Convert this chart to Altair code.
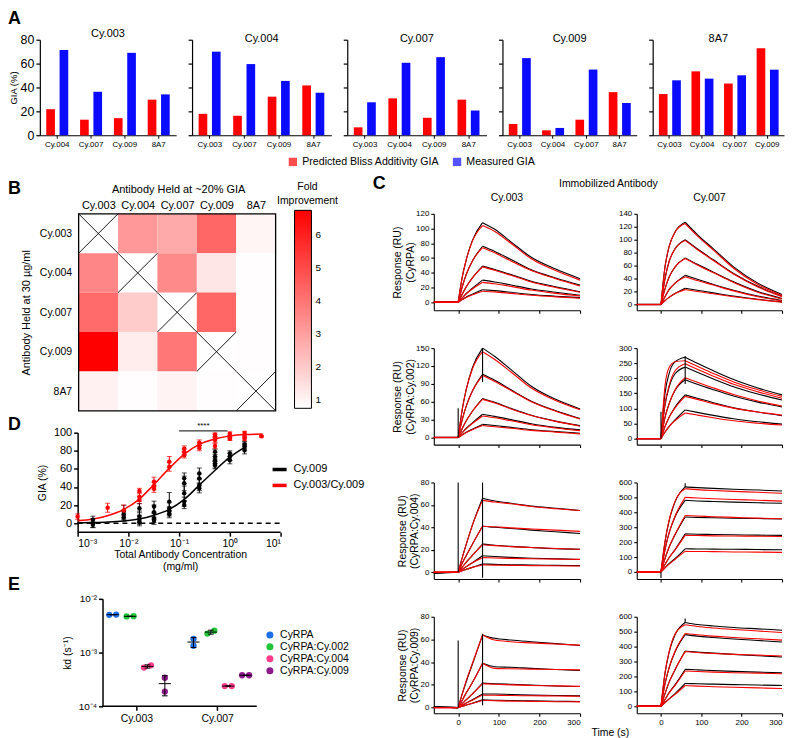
import json
import math
import altair as alt
import pandas as pd

FONT = "Liberation Sans"

# ---------------- Panel A ----------------
A_PANELS = ["Cy.003", "Cy.004", "Cy.007", "Cy.009", "8A7"]
A_PARTNERS = [
    ["Cy.004", "Cy.007", "Cy.009", "8A7"],
    ["Cy.003", "Cy.007", "Cy.009", "8A7"],
    ["Cy.003", "Cy.004", "Cy.009", "8A7"],
    ["Cy.003", "Cy.004", "Cy.007", "8A7"],
    ["Cy.003", "Cy.004", "Cy.007", "Cy.009"],
]
A_PRED = [[21.8, 13.0, 14.3, 29.8], [17.9, 16.3, 32.3, 41.7], [6.6, 30.9, 14.6, 29.8],
          [9.4, 4.1, 13.0, 36.1], [34.5, 53.5, 43.3, 72.8]]
A_MEAS = [[71.4, 36.4, 69.0, 34.2], [70.0, 59.6, 45.5, 35.6], [27.6, 60.7, 65.4, 20.7],
          [64.6, 6.1, 55.0, 27.0], [46.0, 47.4, 50.2, 54.9]]
A_SERIES = ["Predicted Bliss Additivity GIA", "Measured GIA"]
A_COLORS = ["#ff0000", "#0a0aff"]
A_YTICKS = [0, 20, 40, 60, 80]

# ---------------- Panel B ----------------
B_LABELS = ["Cy.003", "Cy.004", "Cy.007", "Cy.009", "8A7"]
B_FOLD = [
    [None, 3.15, 2.75, 4.35, 1.0],
    [3.6, None, 3.5, 1.35, 0.8],
    [4.25, 1.96, None, 4.35, 0.8],
    [6.75, 1.2, 3.95, None, 0.8],
    [1.1, 0.8, 1.05, 0.8, None],
]
B_LEGEND_TICKS = [1, 2, 3, 4, 5, 6]

# ---------------- Panel D ----------------
D_SERIES = ["Cy.009", "Cy.003/Cy.009"]
D_COLORS = ["#000000", "#ff0000"]
D9_CONC = [0.002, 0.002, 0.002, 0.0081, 0.0081, 0.0081, 0.0165, 0.0165, 0.0165, 0.0165,
           0.032, 0.032, 0.032, 0.032, 0.064, 0.064, 0.064, 0.064,
           0.126, 0.126, 0.126, 0.126, 0.126, 0.25, 0.25, 0.25, 0.25,
           0.51, 0.51, 0.51, 0.51, 0.51, 1.0, 1.0, 1.0, 1.95, 1.95, 1.95]
D9_MEAN = [3.7, 0, -1.8, 12.8, 9.2, 6.2, 16.5, 7.3, 3.7, 1,
           18.3, 12, 5.5, 2.6, 23.8, 16.5, 12.8, 9.9,
           49.5, 44, 33, 23.8, 20.1, 55, 49.5, 42, 38.5,
           78.8, 73.3, 69.6, 66, 64, 77, 73.3, 69.6, 87.2, 85.3, 80.6]
D9_SD = [4, 5, 3, 7, 5, 4, 5, 6, 5, 4,
         6, 8, 5, 4, 10, 6, 5, 4,
         6, 8, 8, 5, 4, 6, 5, 6, 5,
         3, 5, 4, 5, 4, 3, 4, 4, 3, 3, 4]
D39_CONC = [0.001, 0.0039, 0.0081, 0.0165, 0.0165, 0.0165, 0.032, 0.032, 0.032,
            0.064, 0.064, 0.126, 0.126, 0.126, 0.25, 0.25, 0.25,
            0.51, 0.51, 0.51, 0.51, 1.0, 1.0, 1.0, 1.95, 1.95, 1.95, 4.2]
D39_MEAN = [7.3, 17, 14, 35.5, 29, 25.6, 45.8, 41, 38,
            67.8, 62.3, 82.4, 78.8, 75, 89, 86, 83,
            97.8, 95, 92, 85.3, 98.9, 95, 93.4, 99.6, 96, 93, 96]
D39_SD = [3, 5, 6, 3, 5, 4, 5, 4, 4,
          6, 5, 3, 3, 3, 3, 3, 3,
          2, 3, 3, 3, 2, 2, 2, 2, 2, 2, 1]
D_FIT9_X = [0.001, 0.002, 0.004, 0.008, 0.016, 0.031, 0.0625, 0.125, 0.25, 0.5, 1, 2.1]
D_FIT9_Y = [0.3, 0.6, 1.2, 2.4, 4.6, 8.5, 15, 26, 42, 58, 73, 85]
D_FIT39_X = [0.001, 0.002, 0.004, 0.008, 0.016, 0.031, 0.0625, 0.125, 0.25, 0.5, 1, 2, 4.4]
D_FIT39_Y = [2.5, 4.5, 8.5, 15, 26, 42, 60, 76, 87, 93, 96.5, 98, 98.5]
D_XTICKS = [0.001, 0.01, 0.1, 1, 10]
D_YTICKS = [0, 20, 40, 60, 80, 100]
D_XDOMAIN = [0.001, 10]
D_YDOMAIN = [-10, 100]
D_SIG_FROM, D_SIG_TO, D_SIG_LEVEL, D_SIG_TEXT = 0.1, 0.9, 102, "****"

# ---------------- Panel E ----------------
E_CATS = ["Cy.003", "Cy.007"]
E_GROUPS = ["CyRPA", "CyRPA:Cy.002", "CyRPA:Cy.004", "CyRPA:Cy.009"]
E_COLORS = ["#1f6fe8", "#22c43a", "#ff3d8b", "#8e1a8e"]
E_KD = [
    [[5.05e-3, 5.1e-3], [4.7e-3, 4.75e-3], [5.25e-4, 5.8e-4], [3.4e-4, 1.88e-4]],
    [[1.8e-3, 1.34e-3], [2.26e-3, 2.55e-3], [2.38e-4, 2.38e-4], [3.78e-4, 3.78e-4]],
]
E_YTICKS = [1e-4, 1e-3, 1e-2]
E_XDOMAIN = [-0.419, 1.49]

# ---------------- Panel C ----------------
C_T = [-60, 0, 10, 20, 35, 60, 90, 130, 180, 240, 300]
C_COLS = ["Cy.003", "Cy.007"]
C_ROW_TITLES = ["(CyRPA)", "(CyRPA:Cy.002)", "(CyRPA:Cy.004)", "(CyRPA:Cy.009)"]
C_YDOM = [[[-11, 120], [-9, 140]], [[-12, 150], [-20, 300]], [[-6, 80], [-47, 600]], [[-5, 80], [-47, 600]]]
C_YTICKS = [
    [[0, 20, 40, 60, 80, 100, 120], [0, 20, 40, 60, 80, 100, 120, 140]],
    [[0, 30, 60, 90, 120, 150], [0, 50, 100, 150, 200, 250, 300]],
    [[0, 20, 40, 60, 80], [0, 100, 200, 300, 400, 500, 600]],
    [[0, 20, 40, 60, 80], [0, 100, 200, 300, 400, 500, 600]],
]
C_XTICKS = [0, 100, 200, 300]

C1L_BLACK = [[0, 0, 34, 58, 84, 108, 99, 82, 61, 45, 32],
             [0, 0, 21, 38, 56, 76, 69, 58, 44, 33, 23.5],
             [0, 0, 11, 21, 33, 49, 44.5, 37.5, 28.5, 21, 14.3],
             [0, 0, 6, 12, 19, 30, 27.5, 23.5, 18, 13.5, 9.5],
             [0, 0, 3.5, 7, 11, 17, 15.7, 13.5, 10.5, 8.2, 6.3]]
C1L_RED = [[0, 0, 34, 58, 83, 104, 96, 80, 59, 43, 30],
           [0, 0, 21, 38, 56, 74, 67, 56, 43, 32, 22],
           [0, 0, 11, 21, 33, 48, 43.5, 36.5, 27.5, 20, 13.5],
           [0, 0, 6, 11.5, 18, 27, 25, 21.5, 16.5, 12, 8.5],
           [0, 0, 3.5, 6.5, 10, 15, 14, 12, 9.5, 7.3, 5.5]]
C1R_BLACK = [[0, 0, 58, 89, 112, 127, 108, 86, 58, 33, 15.5],
             [0, 0, 40, 66, 86, 100, 86, 69, 48, 28, 13],
             [0, 0, 24, 42, 58, 72, 62, 50, 35, 20, 9.3],
             [0, 0, 12, 23, 33, 45, 39, 31, 22, 13, 6.2],
             [0, 0, 6, 11, 17, 25, 22, 18, 13, 8, 4.1]]
C1R_RED = [[0, 0, 58, 89, 112, 125, 106, 84, 56, 31, 14],
           [0, 0, 40, 66, 86, 99, 85, 68, 47, 27, 12],
           [0, 0, 24, 42, 58, 71, 61, 49, 34, 19, 8.5],
           [0, 0, 12, 23, 33, 43, 37, 30, 21, 12, 5.5],
           [0, 0, 6, 11, 17, 23, 20, 16.5, 12, 7.5, 3.5]]
C2L_BLACK = [[0, 0, 47, 81, 117, 150, 136, 114, 86, 64, 48],
             [0, 0, 30, 53, 78, 106, 96, 80, 61, 45, 32],
             [0, 0, 15, 28, 44, 65.5, 59, 49, 37.5, 27.5, 20],
             [0, 0, 8, 15.5, 24.5, 39, 35.5, 30, 23, 17, 12.8],
             [0, 0, 4.4, 8.8, 13.9, 22, 20, 17, 13, 10, 7.2]]
C2L_RED = [[0, 0, 47, 81, 115, 144, 131, 110, 83, 62, 46.5],
           [0, 0, 30, 53, 78, 104, 94, 79, 60, 44, 31],
           [0, 0, 15, 28, 44, 64, 58, 48, 37, 27, 19],
           [0, 0, 8, 15, 23.5, 36, 33, 28, 21.5, 16, 11.5],
           [0, 0, 4.2, 8.2, 13, 20, 18, 15.5, 12, 9, 6]]
C2R_BLACK = [[0, 0, 150, 215, 255, 270, 250, 225, 196, 168, 145],
             [0, 0, 110, 170, 215, 237, 220, 198, 172, 148, 128],
             [0, 0, 70, 115, 160, 195, 180, 162, 141, 121, 105],
             [0, 0, 40, 70, 105, 145, 134, 119, 102, 88, 76],
             [0, 0, 22, 40, 62, 95, 87, 77, 66, 56, 48]]
C2R_RED = [[0, 0, 175, 235, 255, 258, 240, 216, 188, 162, 140],
           [0, 0, 115, 175, 225, 248, 230, 207, 180, 155, 134],
           [0, 0, 70, 115, 162, 202, 187, 168, 146, 125, 108],
           [0, 0, 40, 70, 102, 140, 130, 116, 101, 88, 78],
           [0, 0, 22, 40, 60, 85, 78, 69, 59, 51, 45]]
C3L_BLACK = [[-1, 0, 13, 25, 42, 66, 63.5, 61.5, 59, 57, 55],
             [-0.5, 0, 8, 15, 25, 41, 40, 39, 37.5, 36, 34.5],
             [-0.5, 0, 4.5, 9, 15, 25, 24, 23, 22, 21, 20.5],
             [-0.5, 0, 2.5, 5, 8.5, 14.7, 14, 13.2, 12.5, 12, 11.4],
             [-0.5, 0, 1.3, 2.6, 4.3, 7.3, 7, 6.7, 6.4, 6.1, 5.9]]
C3L_RED = [[0, 0, 13, 25, 42, 64, 62.5, 61, 58.5, 56.5, 55],
           [0, 0, 8, 15, 25, 41, 40.5, 39.5, 38.5, 37.5, 36.4],
           [0, 0, 4.5, 9, 15, 24.5, 23.7, 22.8, 22, 21.2, 20.5],
           [0, 0, 2.5, 5, 8.5, 13, 12.7, 12.3, 12, 11.7, 11.4],
           [0, 0, 1.3, 2.6, 4.3, 6.5, 6.3, 6.1, 5.9, 5.7, 5.5]]
C3R_BLACK = [[0, 0, 200, 340, 470, 570, 565, 560, 554, 549, 543],
             [0, 0, 150, 260, 370, 480, 476, 472, 468, 464, 460],
             [0, 0, 90, 165, 250, 368, 366, 363, 360, 358, 355],
             [0, 0, 50, 95, 150, 255, 253, 251, 249, 247, 245],
             [0, 0, 28, 55, 90, 155, 154, 153, 152, 150, 149]]
C3R_RED = [[0, 0, 205, 345, 475, 558, 552, 546, 540, 534, 527],
           [0, 0, 150, 260, 375, 500, 496, 491, 486, 481, 475],
           [0, 0, 90, 165, 252, 378, 375, 370, 366, 361, 357],
           [0, 0, 50, 95, 148, 245, 244, 242, 241, 239, 238],
           [0, 0, 28, 52, 85, 138, 137, 136, 134, 133, 131]]
C4L_BLACK = [[0.5, 0, 12, 23, 38, 64, 61, 59.5, 58, 56.3, 54.7],
             [0.5, 0, 6.5, 13, 22, 39, 36, 35.5, 34.5, 33.5, 32.6],
             [0.5, 0, 3.5, 7, 12, 21.5, 21, 20.5, 19.8, 19, 18.5],
             [0.5, 0, 2, 4, 7, 12, 12, 11.5, 11, 10.7, 10.3],
             [0.5, 0, 1.1, 2.2, 3.8, 6.8, 6.5, 6.2, 5.9, 5.6, 5.3]]
C4L_RED = [[0, 0, 12, 24, 39, 64, 59.5, 58, 57, 56, 55],
           [0, 0, 6.5, 13, 22, 39, 34.5, 34.2, 33.9, 33.6, 33.2],
           [0, 0, 3.5, 7, 12, 21, 20.5, 20, 19.5, 19.1, 18.7],
           [0, 0, 2, 4, 6.5, 11, 10.8, 10.6, 10.4, 10.2, 10],
           [0, 0, 1.1, 2.2, 3.8, 6.3, 6, 5.7, 5.5, 5.2, 5]]
C4R_BLACK = [[0, 0, 220, 360, 480, 562, 548, 538, 528, 519, 510],
             [0, 0, 150, 255, 365, 480, 470, 461, 451, 441, 431],
             [0, 0, 85, 160, 245, 370, 363, 356, 348, 339, 330],
             [0, 0, 45, 90, 145, 247, 244, 239, 234, 229, 225],
             [0, 0, 25, 50, 85, 153, 151, 148, 145, 142, 139]]
C4R_RED = [[0, 0, 225, 365, 485, 546, 535, 525, 515, 505, 494],
           [0, 0, 150, 258, 370, 488, 479, 470, 461, 452, 443],
           [0, 0, 85, 160, 247, 366, 360, 354, 348, 343, 337],
           [0, 0, 45, 88, 140, 236, 233, 229, 225, 222, 218],
           [0, 0, 25, 48, 80, 139, 135, 131, 127, 123, 119]]
C_BLACK = [[C1L_BLACK, C1R_BLACK], [C2L_BLACK, C2R_BLACK], [C3L_BLACK, C3R_BLACK], [C4L_BLACK, C4R_BLACK]]
C_RED = [[C1L_RED, C1R_RED], [C2L_RED, C2R_RED], [C3L_RED, C3R_RED], [C4L_RED, C4R_RED]]
# injection spikes: [time, low, high]
C_SPIKES = [
    [[], []],
    [[[0, 0, 49], [60, 93, 150]], [[0, 0, 89], [60, 181, 274]]],
    [[[0, 0, 80], [60, -5, 80]], [[0, -40, 0], [60, 570, 595]]],
    [[[0, 0, 59], [60, 2, 65]], [[60, 560, 588]]],
]

LETTER = dict(fontSize=18, fontWeight="bold", anchor="start", frame="group")

# ======================= Panel A =======================
A_WIDTHS = [137, 140, 140, 135, 132]


def a_panel(i):
    rows = []
    for j, p in enumerate(A_PARTNERS[i]):
        rows.append(dict(partner=p, series=A_SERIES[0], gia=A_PRED[i][j]))
        rows.append(dict(partner=p, series=A_SERIES[1], gia=A_MEAS[i][j]))
    df = pd.DataFrame(rows)
    first = i == 0
    yaxis = alt.Axis(values=A_YTICKS, title="GIA (%)" if first else None, labels=first,
                     labelFontSize=12.5, titleFontSize=9.5, tickSize=4, labelPadding=2,
                     titlePadding=2, domainWidth=1.2, tickWidth=1.2)
    return alt.Chart(df).mark_bar().encode(
        x=alt.X("partner:N", sort=A_PARTNERS[i], title=None,
                scale=alt.Scale(paddingInner=0.35, paddingOuter=0.19),
                axis=alt.Axis(labelAngle=0, labelFontSize=8, tickSize=3, labelPadding=2,
                              domainWidth=1.2, tickWidth=1)),
        xOffset=alt.XOffset("series:N", sort=A_SERIES, scale=alt.Scale(paddingInner=0.35)),
        y=alt.Y("gia:Q", scale=alt.Scale(domain=[0, 80], nice=False), axis=yaxis),
        color=alt.Color("series:N", sort=A_SERIES,
                        scale=alt.Scale(domain=A_SERIES, range=A_COLORS), legend=None),
    ).properties(width=A_WIDTHS[i], height=96,
                 title=alt.TitleParams(A_PANELS[i], fontSize=11, fontWeight="normal", offset=0, dy=5))


A_row = alt.hconcat(*[a_panel(i) for i in range(5)], spacing=11,
                    title=alt.TitleParams("A", fontSize=18, fontWeight="bold", anchor="start", offset=0))

# legend row for panel A (legend only, its mark is clipped away)
legA_chart = alt.Chart(pd.DataFrame({"series": A_SERIES})).mark_square(clip=True).encode(
    x=alt.value(-60), y=alt.value(-60),
    color=alt.Color("series:N", sort=A_SERIES, scale=alt.Scale(domain=A_SERIES, range=A_COLORS),
                    legend=alt.Legend(title=None, orient="right", direction="horizontal", offset=248,
                                      symbolType="square", symbolSize=70, labelFontSize=10.7,
                                      columnPadding=12, labelOffset=4, padding=0)),
).properties(width=1, height=1)

# ======================= Panel B =======================
rect_rows = []
for r in range(5):
    for c in range(5):
        v = B_FOLD[r][c]
        if v is not None:
            rect_rows.append(dict(c0=c, c1=c + 1, r0=r, r1=r + 1, fold=v))
rect_df = pd.DataFrame(rect_rows)
cross_rows = []
for i in range(5):
    cross_rows.append(dict(c0=i, r0=i, c1=i + 1, r1=i + 1))
    cross_rows.append(dict(c0=i + 1, r0=i, c1=i, r1=i + 1))
cross_df = pd.DataFrame(cross_rows)
frame_df = pd.DataFrame([dict(c0=0, c1=5, r0=0, r1=5)])
lab_expr = json.dumps(B_LABELS) + "[floor(datum.value)]"
mid_ticks = [i + 0.5 for i in range(5)]
bx = alt.X("c0:Q", scale=alt.Scale(domain=[0, 5], nice=False, zero=False, range=[39, 237]),
           axis=alt.Axis(orient="top", values=mid_ticks, labelExpr=lab_expr, ticks=False, domain=False,
                         labelFontSize=11, labelPadding=3, title="Antibody Held at ~20% GIA",
                         titleFontSize=11, titlePadding=5, titleX=139, titleAlign="center"))
by = alt.Y("r0:Q", scale=alt.Scale(domain=[0, 5], nice=False, zero=False, reverse=True),
           axis=alt.Axis(values=mid_ticks, labelExpr=lab_expr, ticks=False, domain=False, offset=-39,
                         labelFontSize=10.5, labelPadding=7, title="Antibody Held at 30 µg/ml",
                         titleFontSize=11, titlePadding=8))
legB = alt.Legend(title=["Fold", "Improvement"], orient="none", legendX=238, legendY=-32,
                  direction="vertical", gradientLength=199, gradientThickness=17,
                  values=B_LEGEND_TICKS, labelFontSize=10, titleFontSize=10.5,
                  titleAlign="center", titleAnchor="middle", titleLineHeight=14,
                  gradientStrokeColor="black", gradientStrokeWidth=1, labelOffset=4,
                  titlePadding=4, padding=0)
heat = alt.Chart(rect_df).mark_rect().encode(
    x=bx, x2="c1:Q", y=by, y2="r1:Q",
    color=alt.Color("fold:Q", scale=alt.Scale(domain=[0.76, 6.75], range=["#ffffff", "#ff0000"],
                                              interpolate="rgb"), legend=legB),
)
crosses = alt.Chart(cross_df).mark_rule(color="black", strokeWidth=0.9).encode(
    x=bx, x2="c1:Q", y=by, y2="r1:Q")
frame = alt.Chart(frame_df).mark_rect(fill=None, stroke="black", strokeWidth=1.3).encode(
    x=bx, x2="c1:Q", y=by, y2="r1:Q")
B = alt.layer(heat, crosses, frame).properties(
    width=237, height=198,
    title=alt.TitleParams("B", dx=-32, dy=16, offset=0, **LETTER))

# ======================= Panel D =======================
def d_points(conc, mean, sd, series):
    return [dict(conc=c, gia=m, lo=m - s, hi=m + s, series=series) for c, m, s in zip(conc, mean, sd)]


d_pts = pd.DataFrame(d_points(D9_CONC, D9_MEAN, D9_SD, D_SERIES[0]) +
                     d_points(D39_CONC, D39_MEAN, D39_SD, D_SERIES[1]))
d_caps = pd.concat([
    d_pts[["conc", "lo", "series"]].rename(columns={"lo": "gia"}),
    d_pts[["conc", "hi", "series"]].rename(columns={"hi": "gia"}),
])
d_fit = pd.DataFrame([dict(conc=x, gia=y, series=D_SERIES[0]) for x, y in zip(D_FIT9_X, D_FIT9_Y)] +
                     [dict(conc=x, gia=y, series=D_SERIES[1]) for x, y in zip(D_FIT39_X, D_FIT39_Y)])
sup_expr = ("datum.value < 0.005 ? '10⁻³' : datum.value < 0.05 ? '10⁻²' : "
            "datum.value < 0.5 ? '10⁻¹' : datum.value < 5 ? '10⁰' : '10¹'")
dx_enc = alt.X("conc:Q", scale=alt.Scale(type="log", domain=D_XDOMAIN, nice=False, range=[38, 242]),
               axis=alt.Axis(values=D_XTICKS, labelExpr=sup_expr, domain=False,
                             title=["Total Antibody Concentration", "(mg/ml)"], titleX=141,
                             titleAlign="center", titleFontSize=10.5, labelFontSize=10.5, tickSize=4,
                             tickWidth=1.5, titlePadding=1, titleLineHeight=12, labelPadding=2))
dy_enc = alt.Y("gia:Q", scale=alt.Scale(domain=D_YDOMAIN, nice=False, zero=False),
               axis=alt.Axis(values=D_YTICKS, title="GIA  (%)", labelFontSize=11, titleFontSize=10.5,
                             tickSize=4, domainWidth=1.5, tickWidth=1.5, titlePadding=6, labelPadding=2,
                             offset=-38))
d_color_scale = alt.Scale(domain=D_SERIES, range=D_COLORS)
legD = alt.Legend(title=None, orient="none", legendX=232, legendY=28, symbolType="stroke",
                  symbolStrokeWidth=3.5, symbolSize=200, labelFontSize=11, rowPadding=0,
                  labelOffset=5, padding=0)
d_base = alt.Chart(pd.DataFrame({"conc": [D_XDOMAIN[0]], "conc2": [D_XDOMAIN[1]], "gia": [D_YDOMAIN[0]]})
                   ).mark_rule(color="black", strokeWidth=1.5).encode(x=dx_enc, x2="conc2:Q", y=dy_enc)
d_zero = alt.Chart(pd.DataFrame({"conc": [D_XDOMAIN[0]], "conc2": [D_XDOMAIN[1]], "gia": [0]})).mark_rule(
    color="black", strokeWidth=1.5, strokeDash=[5, 4]).encode(x=dx_enc, x2="conc2:Q", y=dy_enc)
d_line = alt.Chart(d_fit).mark_line(strokeWidth=1.5, interpolate="monotone").encode(
    x=dx_enc, y=dy_enc, color=alt.Color("series:N", scale=d_color_scale, legend=legD))
d_rule = alt.Chart(d_pts.assign(gia=d_pts["lo"], gia2=d_pts["hi"])).mark_rule(strokeWidth=1).encode(
    x=dx_enc, y=dy_enc, y2="gia2:Q", color=alt.Color("series:N", scale=d_color_scale, legend=None))
d_cap = alt.Chart(d_caps).mark_tick(orient="horizontal", size=5, thickness=1).encode(
    x=dx_enc, y=dy_enc, color=alt.Color("series:N", scale=d_color_scale, legend=None))
d_dot = alt.Chart(d_pts).mark_circle(size=20, opacity=1).encode(
    x=dx_enc, y=dy_enc, color=alt.Color("series:N", scale=d_color_scale, legend=None))
d_sig = alt.Chart(pd.DataFrame({"conc": [D_SIG_FROM], "conc2": [D_SIG_TO], "gia": [D_SIG_LEVEL]})).mark_rule(
    color="black", strokeWidth=1).encode(x=dx_enc, x2="conc2:Q", y=dy_enc)
d_star = alt.Chart(pd.DataFrame({"conc": [math.sqrt(D_SIG_FROM * D_SIG_TO)], "gia": [D_SIG_LEVEL],
                                 "txt": [D_SIG_TEXT]})).mark_text(
    fontSize=8, baseline="bottom", dy=-1, color="black").encode(x=dx_enc, y=dy_enc, text="txt:N")
D = alt.layer(d_base, d_zero, d_line, d_rule, d_cap, d_dot, d_sig, d_star).properties(
    width=242, height=100, title=alt.TitleParams("D", dx=-32, dy=12, offset=0, **LETTER))

# ======================= Panel E =======================
e_pts, e_mean, e_err, e_cap = [], [], [], []
for ci, cat in enumerate(E_CATS):
    for gi, grp in enumerate(E_GROUPS):
        a, b = E_KD[ci][gi]
        center = ci + (gi - 1.5) * 0.215 + 0.03
        side = abs(math.log10(a / b)) < 0.06
        offs = [-0.043, 0.043] if side else [0.0, 0.0]
        for v, o in zip((a, b), offs):
            e_pts.append(dict(pos=center + o, kd=v, group=grp))
        m = (a + b) / 2
        sd = abs(a - b) / math.sqrt(2)
        e_mean.append(dict(pos=center - 0.075, pos2=center + 0.075, kd=m))
        e_err.append(dict(pos=center, kd=m - sd, kd2=m + sd))
        e_cap.append(dict(pos=center - 0.035, pos2=center + 0.035, kd=m - sd))
        e_cap.append(dict(pos=center - 0.035, pos2=center + 0.035, kd=m + sd))
e_sup = "datum.value < 0.0005 ? '10⁻⁴' : datum.value < 0.005 ? '10⁻³' : '10⁻²'"
ex_enc = alt.X("pos:Q", scale=alt.Scale(domain=E_XDOMAIN, nice=False, zero=False, range=[63, 218]),
               axis=alt.Axis(values=[0, 1], labelExpr=json.dumps(E_CATS) + "[round(datum.value)]",
                             title=None, labelFontSize=10.5, tickSize=4, domain=False,
                             tickWidth=1.5, labelPadding=3))
ey_enc = alt.Y("kd:Q", scale=alt.Scale(type="log", domain=[E_YTICKS[0], E_YTICKS[-1]], nice=False),
               axis=alt.Axis(values=E_YTICKS, labelExpr=e_sup, title="kd (s⁻¹)", titleFontSize=10.5,
                             labelFontSize=10, tickSize=4, domainWidth=1.5, tickWidth=1.5,
                             titlePadding=6, labelPadding=2, offset=-63))
legE = alt.Legend(title=None, orient="none", legendX=226, legendY=31, symbolType="circle",
                  symbolSize=50, labelFontSize=10.5, rowPadding=1, labelOffset=5, padding=0)
e_base = alt.Chart(pd.DataFrame({"pos": [E_XDOMAIN[0]], "pos2": [E_XDOMAIN[1]], "kd": [E_YTICKS[0]]})
                   ).mark_rule(color="black", strokeWidth=1.5).encode(x=ex_enc, x2="pos2:Q", y=ey_enc)
e_dot = alt.Chart(pd.DataFrame(e_pts)).mark_circle(size=40, opacity=1).encode(
    x=ex_enc, y=ey_enc,
    color=alt.Color("group:N", sort=E_GROUPS, scale=alt.Scale(domain=E_GROUPS, range=E_COLORS), legend=legE))
e_m = alt.Chart(pd.DataFrame(e_mean)).mark_rule(color="black", strokeWidth=1).encode(
    x=ex_enc, x2="pos2:Q", y=ey_enc)
e_e = alt.Chart(pd.DataFrame(e_err)).mark_rule(color="black", strokeWidth=1).encode(
    x=ex_enc, y=ey_enc, y2="kd2:Q")
e_c = alt.Chart(pd.DataFrame(e_cap)).mark_rule(color="black", strokeWidth=1).encode(
    x=ex_enc, x2="pos2:Q", y=ey_enc)
E = alt.layer(e_base, e_dot, e_e, e_c, e_m).properties(
    width=218, height=108, title=alt.TitleParams("E", dx=-32, offset=0, **LETTER))

left_col = alt.vconcat(B, D, E, spacing=4).resolve_scale(color="independent")

# ======================= Panel C =======================
SEGS = [(0, 2), (1, 6), (5, 11)]


def c_panel(r, col):
    recs = []
    for kind, curves in (("meas", C_BLACK[r][col]), ("fit", C_RED[r][col])):
        for k, vals in enumerate(curves):
            for s, (a, b) in enumerate(SEGS):
                for idx in range(a, b):
                    recs.append(dict(t=C_T[idx], ru=vals[idx], kind=kind, grp=f"{kind}{k}_{s}"))
    df = pd.DataFrame(recs)
    last = r == 3
    xenc = alt.X("t:Q", scale=alt.Scale(domain=[-60, 300], nice=False, zero=False),
                 axis=alt.Axis(values=C_XTICKS, labels=last, title=None, labelFontSize=8, tickSize=3,
                               labelPadding=2, domainWidth=1.1, tickWidth=1.1, format="d"))
    ykw = dict(values=C_YTICKS[r][col], labelFontSize=8, tickSize=3, labelPadding=2,
               domainWidth=1.1, tickWidth=1.1)
    if col == 0:
        ykw.update(title=["Response (RU)", C_ROW_TITLES[r]], titleFontSize=10.5, titlePadding=0,
                   titleLineHeight=13)
    else:
        ykw.update(title=None)
    yenc = alt.Y("ru:Q", scale=alt.Scale(domain=C_YDOM[r][col], nice=False, zero=False),
                 axis=alt.Axis(**ykw))
    meas = alt.Chart(df[df.kind == "meas"]).mark_line(
        color="black", strokeWidth=1.1, interpolate="monotone").encode(x=xenc, y=yenc, detail="grp:N")
    fit = alt.Chart(df[df.kind == "fit"]).mark_line(
        color="#ff0000", strokeWidth=1.1, interpolate="monotone").encode(x=xenc, y=yenc, detail="grp:N")
    layers = [meas, fit]
    sp = C_SPIKES[r][col]
    if sp:
        sdf = pd.DataFrame(sp, columns=["t", "ru", "ru2"])
        layers.append(alt.Chart(sdf).mark_rule(color="black", strokeWidth=1.1).encode(
            x=xenc, y=yenc, y2="ru2:Q"))
    props = dict(width=147 if col == 0 else 146, height=97)
    if r == 0:
        props["title"] = alt.TitleParams(C_COLS[col], fontSize=10.5, fontWeight="normal", offset=6)
    return alt.layer(*layers).properties(**props)


colL = alt.vconcat(*[c_panel(r, 0) for r in range(4)], spacing=30)
colR = alt.vconcat(*[c_panel(r, 1) for r in range(4)], spacing=30)
C_inner = alt.hconcat(colL, colR, spacing=35,
                      title=alt.TitleParams("Time (s)", orient="bottom", anchor="middle", fontSize=10.5,
                                            fontWeight="normal", dx=22, offset=2))
C_mid = alt.vconcat(C_inner, title=alt.TitleParams("Immobilized Antibody", anchor="middle", fontSize=10.5,
                                                   fontWeight="normal", dx=20, offset=4))
C_outer = alt.vconcat(C_mid, title=alt.TitleParams("C", fontSize=18, fontWeight="bold",
                                                   anchor="start", dx=-20, dy=14, offset=0))

middle = alt.hconcat(left_col, C_outer, spacing=7).resolve_scale(color="independent")

chart = alt.vconcat(A_row, legA_chart, middle, spacing=8).resolve_scale(color="independent").properties(
    padding=0, background="white"
).configure(font=FONT).configure_view(stroke=None).configure_axis(
    domainColor="black", tickColor="black", labelColor="black", titleColor="black", grid=False,
    titleFontWeight="normal", labelFont=FONT, titleFont=FONT
).configure_title(font=FONT, color="black").configure_legend(
    labelFont=FONT, titleFont=FONT, labelColor="black", titleColor="black", titleFontWeight="normal"
)

chart.save("out.html", embed_options={"renderer": "svg", "actions": False})
